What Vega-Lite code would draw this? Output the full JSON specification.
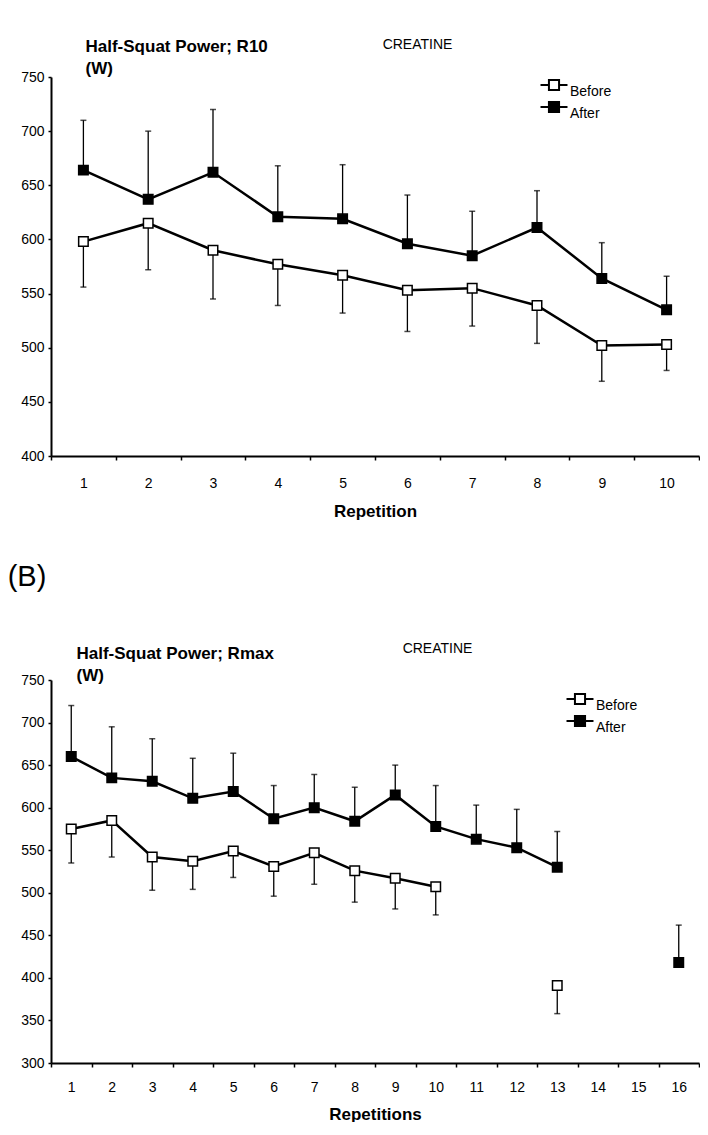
{
  "$schema": "https://vega.github.io/schema/vega-lite/v6.json",
  "padding": {"left": 7, "top": 37, "right": 0, "bottom": 0},
  "spacing": 44,
  "resolve": {"scale": {"fill": "independent"}, "legend": {"fill": "independent"}},
  "config": {
    "font": "Liberation Sans",
    "view": {"stroke": null},
    "axis": {"domainColor": "black", "domainWidth": 2, "tickColor": "black", "tickWidth": 1.5, "labelColor": "black", "titleColor": "black", "grid": false, "labelFontSize": 14, "labelFont": "Liberation Sans", "titleFont": "Liberation Sans"},
    "legend": {"padding": 0, "labelColor": "black", "labelFont": "Liberation Sans"},
    "title": {"color": "black", "font": "Liberation Sans", "fontWeight": "normal"}
  },
  "datasets": {
    "r10": [
      {"rep": 1, "group": "After", "seg": "A", "mean": 664, "err": 710},
      {"rep": 2, "group": "After", "seg": "A", "mean": 637, "err": 700},
      {"rep": 3, "group": "After", "seg": "A", "mean": 662, "err": 720},
      {"rep": 4, "group": "After", "seg": "A", "mean": 621, "err": 668},
      {"rep": 5, "group": "After", "seg": "A", "mean": 619, "err": 669},
      {"rep": 6, "group": "After", "seg": "A", "mean": 596, "err": 641},
      {"rep": 7, "group": "After", "seg": "A", "mean": 585, "err": 626},
      {"rep": 8, "group": "After", "seg": "A", "mean": 611, "err": 645},
      {"rep": 9, "group": "After", "seg": "A", "mean": 564, "err": 597},
      {"rep": 10, "group": "After", "seg": "A", "mean": 535, "err": 566},
      {"rep": 1, "group": "Before", "seg": "B", "mean": 598, "err": 556},
      {"rep": 2, "group": "Before", "seg": "B", "mean": 615, "err": 572},
      {"rep": 3, "group": "Before", "seg": "B", "mean": 590, "err": 545},
      {"rep": 4, "group": "Before", "seg": "B", "mean": 577, "err": 539},
      {"rep": 5, "group": "Before", "seg": "B", "mean": 567, "err": 532},
      {"rep": 6, "group": "Before", "seg": "B", "mean": 553, "err": 515},
      {"rep": 7, "group": "Before", "seg": "B", "mean": 555, "err": 520},
      {"rep": 8, "group": "Before", "seg": "B", "mean": 539, "err": 504},
      {"rep": 9, "group": "Before", "seg": "B", "mean": 502, "err": 469},
      {"rep": 10, "group": "Before", "seg": "B", "mean": 503, "err": 479}
    ],
    "rmax": [
      {"rep": 1, "group": "After", "seg": "A1", "mean": 660, "err": 720},
      {"rep": 2, "group": "After", "seg": "A1", "mean": 635, "err": 695},
      {"rep": 3, "group": "After", "seg": "A1", "mean": 631, "err": 681},
      {"rep": 4, "group": "After", "seg": "A1", "mean": 611, "err": 658},
      {"rep": 5, "group": "After", "seg": "A1", "mean": 619, "err": 664},
      {"rep": 6, "group": "After", "seg": "A1", "mean": 587, "err": 626},
      {"rep": 7, "group": "After", "seg": "A1", "mean": 600, "err": 639},
      {"rep": 8, "group": "After", "seg": "A1", "mean": 584, "err": 624},
      {"rep": 9, "group": "After", "seg": "A1", "mean": 615, "err": 650},
      {"rep": 10, "group": "After", "seg": "A1", "mean": 578, "err": 626},
      {"rep": 11, "group": "After", "seg": "A1", "mean": 563, "err": 603},
      {"rep": 12, "group": "After", "seg": "A1", "mean": 553, "err": 598},
      {"rep": 13, "group": "After", "seg": "A1", "mean": 530, "err": 572},
      {"rep": 16, "group": "After", "seg": "A2", "mean": 418, "err": 462},
      {"rep": 1, "group": "Before", "seg": "B1", "mean": 575, "err": 535},
      {"rep": 2, "group": "Before", "seg": "B1", "mean": 585, "err": 542},
      {"rep": 3, "group": "Before", "seg": "B1", "mean": 542, "err": 503},
      {"rep": 4, "group": "Before", "seg": "B1", "mean": 537, "err": 504},
      {"rep": 5, "group": "Before", "seg": "B1", "mean": 549, "err": 518},
      {"rep": 6, "group": "Before", "seg": "B1", "mean": 531, "err": 496},
      {"rep": 7, "group": "Before", "seg": "B1", "mean": 547, "err": 510},
      {"rep": 8, "group": "Before", "seg": "B1", "mean": 526, "err": 489},
      {"rep": 9, "group": "Before", "seg": "B1", "mean": 517, "err": 481},
      {"rep": 10, "group": "Before", "seg": "B1", "mean": 507, "err": 474},
      {"rep": 13, "group": "Before", "seg": "B2", "mean": 391, "err": 358}
    ]
  },
  "vconcat": [
    {
      "width": 648,
      "height": 379,
      "data": {"name": "r10"},
      "title": {"text": "CREATINE", "anchor": "start", "dx": 362, "dy": 19, "fontSize": 14},
      "encoding": {
        "x": {"field": "rep", "type": "ordinal", "scale": {"type": "band", "domain": [1, 2, 3, 4, 5, 6, 7, 8, 9, 10], "paddingInner": 0, "paddingOuter": 0},
          "axis": {"title": "Repetition", "titleFontSize": 17, "titleFontWeight": "bold", "titlePadding": 13, "labelAngle": 0, "tickBand": "extent", "tickSize": 4, "labelPadding": 16, "labelFontSize": 14}},
        "y": {"field": "mean", "type": "quantitative", "scale": {"domain": [400, 750], "nice": false, "zero": false},
          "axis": {"values": [400, 450, 500, 550, 600, 650, 700, 750], "tickSize": 3, "labelPadding": 4, "title": ["Half-Squat Power; R10", "(W)"], "titleAngle": 0, "titleAlign": "left", "titleBaseline": "top", "titleX": 34, "titleY": -39, "titleFontSize": 17, "titleFontWeight": "bold", "titleLineHeight": 22}}
      },
      "layer": [
        {"mark": {"type": "rule", "color": "black", "strokeWidth": 1.3}, "encoding": {"y2": {"field": "err"}}},
        {"mark": {"type": "tick", "orient": "horizontal", "size": 6, "thickness": 1.5, "color": "black"}, "encoding": {"y": {"field": "err", "type": "quantitative"}}},
        {"mark": {"type": "line", "color": "black", "strokeWidth": 2.5}, "encoding": {"detail": {"field": "seg"}}},
        {"mark": {"type": "point", "shape": "square", "filled": true, "size": 90, "stroke": "black", "strokeWidth": 1.5, "opacity": 1},
          "encoding": {"fill": {"field": "group", "type": "nominal", "scale": {"domain": ["Before", "After"], "range": ["white", "black"]},
            "legend": {"title": null, "orient": "none", "legendX": 495, "legendY": 0, "symbolType": "M-2,0H-0.75M0.75,0H2M-0.75,-0.75H0.75V0.75H-0.75Z", "symbolSize": 182, "symbolStrokeColor": "black", "symbolStrokeWidth": 2, "labelFontSize": 14, "labelBaseline": "top", "labelOffset": 8, "rowPadding": -2}}}}
      ]
    },
    {
      "title": {"text": "(B)", "anchor": "start", "fontSize": 29, "dx": -13, "offset": 50},
      "resolve": {"scale": {"fill": "independent"}, "legend": {"fill": "independent"}},
      "vconcat": [
        {
          "width": 648,
          "height": 383,
          "data": {"name": "rmax"},
          "title": {"text": "CREATINE", "anchor": "start", "dx": 382, "dy": 16, "fontSize": 14},
          "encoding": {
            "x": {"field": "rep", "type": "ordinal", "scale": {"type": "band", "domain": [1, 2, 3, 4, 5, 6, 7, 8, 9, 10, 11, 12, 13, 14, 15, 16], "paddingInner": 0, "paddingOuter": 0},
              "axis": {"title": "Repetitions", "titleFontSize": 17, "titleFontWeight": "bold", "titlePadding": 12, "labelAngle": 0, "tickBand": "extent", "tickSize": 4, "labelPadding": 13, "labelFontSize": 14}},
            "y": {"field": "mean", "type": "quantitative", "scale": {"domain": [300, 750], "nice": false, "zero": false},
              "axis": {"values": [300, 350, 400, 450, 500, 550, 600, 650, 700, 750], "tickSize": 3, "labelPadding": 4, "title": ["Half-Squat Power; Rmax", "(W)"], "titleAngle": 0, "titleAlign": "left", "titleBaseline": "top", "titleX": 25, "titleY": -35, "titleFontSize": 17, "titleFontWeight": "bold", "titleLineHeight": 22}}
          },
          "layer": [
            {"mark": {"type": "rule", "color": "black", "strokeWidth": 1.3}, "encoding": {"y2": {"field": "err"}}},
            {"mark": {"type": "tick", "orient": "horizontal", "size": 6, "thickness": 1.5, "color": "black"}, "encoding": {"y": {"field": "err", "type": "quantitative"}}},
            {"mark": {"type": "line", "color": "black", "strokeWidth": 2.5}, "encoding": {"detail": {"field": "seg"}}},
            {"mark": {"type": "point", "shape": "square", "filled": true, "size": 90, "stroke": "black", "strokeWidth": 1.5, "opacity": 1},
              "encoding": {"fill": {"field": "group", "type": "nominal", "scale": {"domain": ["Before", "After"], "range": ["white", "black"]},
                "legend": {"title": null, "orient": "none", "legendX": 521, "legendY": 11, "symbolType": "M-2,0H-0.75M0.75,0H2M-0.75,-0.75H0.75V0.75H-0.75Z", "symbolSize": 182, "symbolStrokeColor": "black", "symbolStrokeWidth": 2, "labelFontSize": 14, "labelBaseline": "top", "labelOffset": 8, "rowPadding": -2}}}}
          ]
        }
      ]
    }
  ]
}
